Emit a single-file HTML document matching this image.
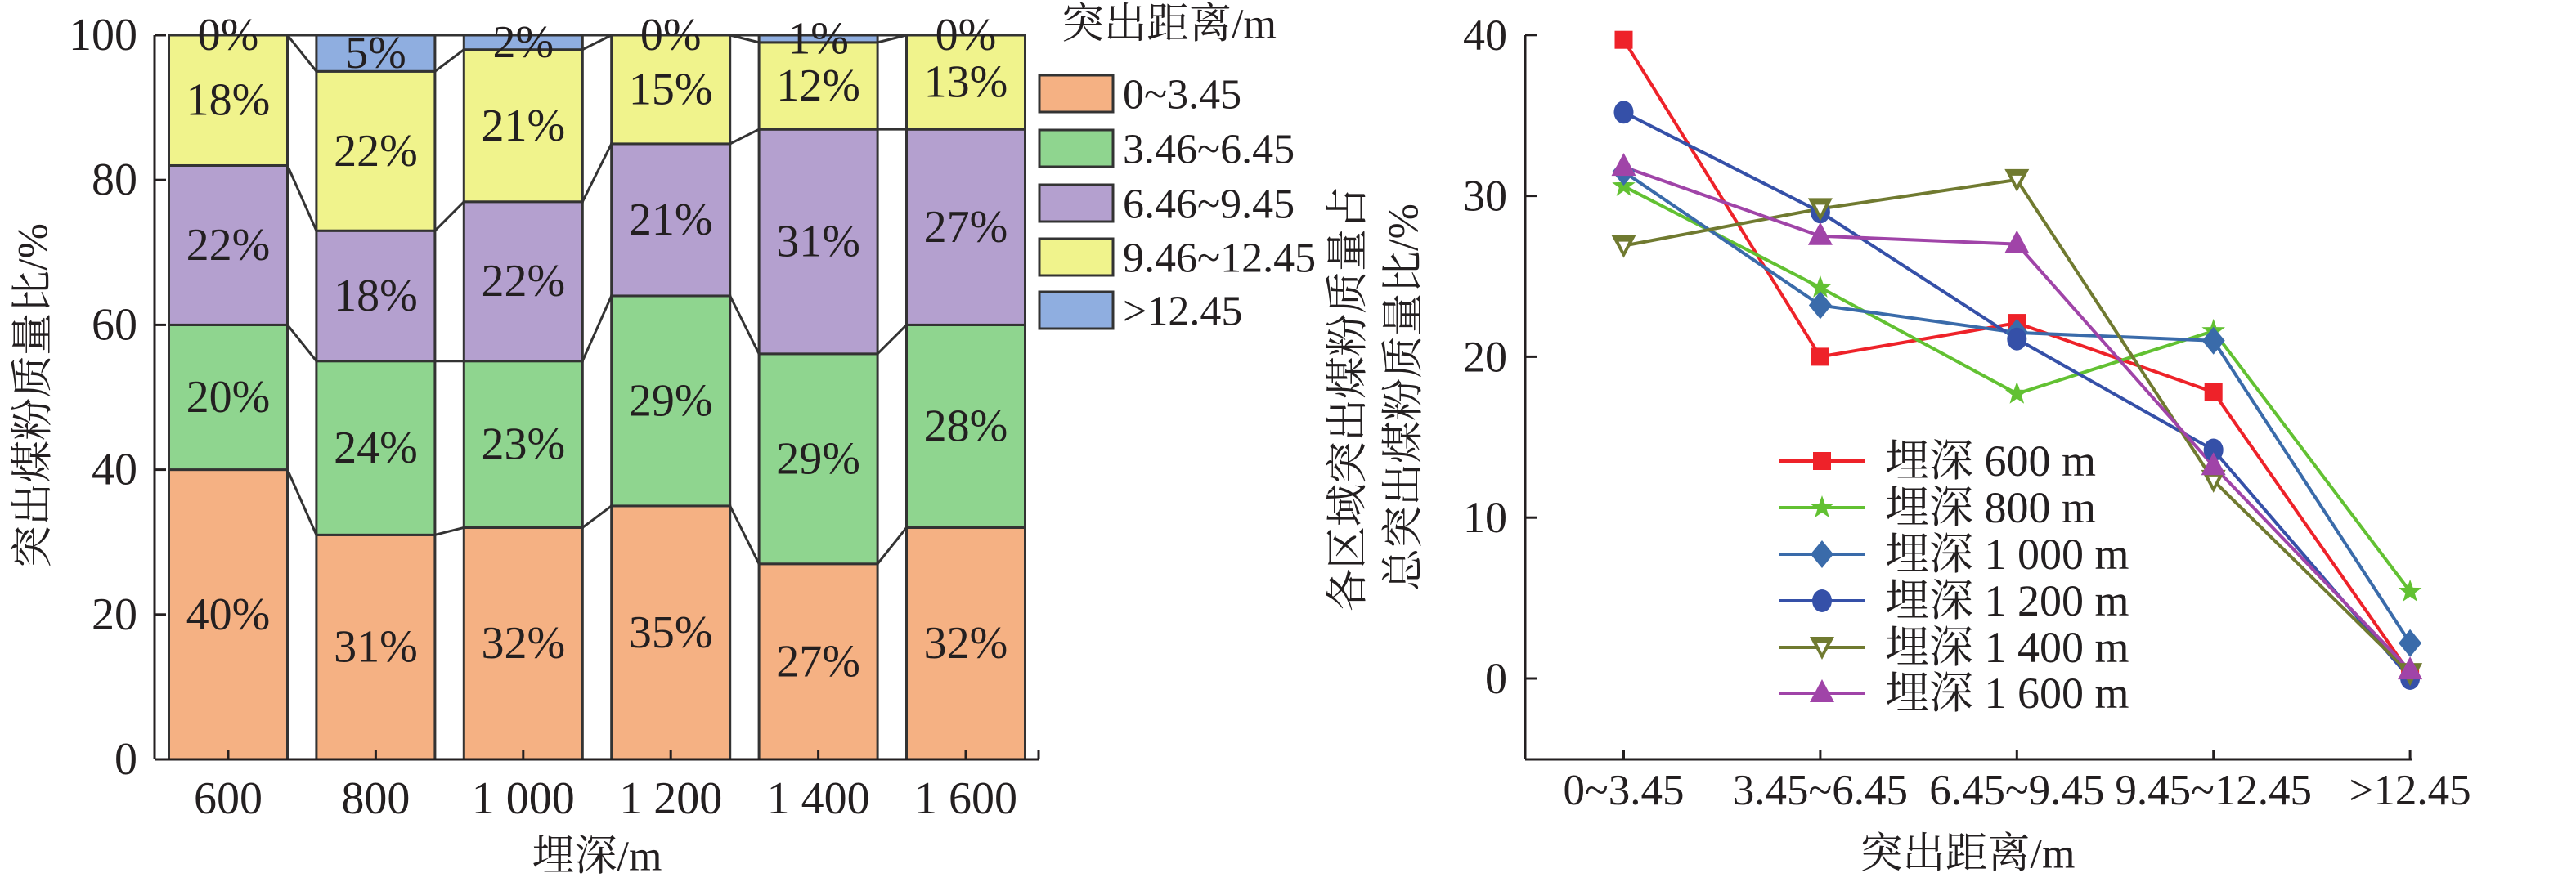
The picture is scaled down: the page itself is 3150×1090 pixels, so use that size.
<!DOCTYPE html>
<html><head><meta charset="utf-8"><style>
html,body{margin:0;padding:0;background:#fff}
text{font-family:"Liberation Serif","Noto Serif CJK SC",serif !important;fill:#231f20}
</style></head><body>
<svg id="svg" width="3150" height="1085" viewBox="0 0 3150 1085" xmlns="http://www.w3.org/2000/svg" font-family="'Liberation Serif', 'Noto Serif CJK SC', serif">
<g id="left"></g>
<g id="right"></g>
</svg>
<script>
// ---- Left chart data ----
const depths = ["600","800","1 000","1 200","1 400","1 600"];
const rangeNames = ["0~3.45","3.46~6.45","6.46~9.45","9.46~12.45",">12.45"];
const seg0 = [40,31,32,35,27,32];
const seg1 = [20,24,23,29,29,28];
const seg2 = [22,18,22,21,31,27];
const seg3 = [18,22,21,15,12,13];
const seg4 = [0,5,2,0,1,0];
const leftTicks = [0,20,40,60,80,100];
// ---- Right chart data ----
const distCats = ["0~3.45","3.45~6.45","6.45~9.45","9.45~12.45",">12.45"];
const s600 = [39.7,20.0,22.1,17.8,0.3];
const s800 = [30.6,24.3,17.7,21.6,5.4];
const s1000 = [31.5,23.2,21.5,21.0,2.2];
const s1200 = [35.2,29.0,21.1,14.2,0.0];
const s1400 = [26.9,29.2,31.0,12.3,0.3];
const s1600 = [31.8,27.5,27.0,13.2,0.5];
const seriesNames = ["埋深 600 m","埋深 800 m","埋深 1 000 m","埋深 1 200 m","埋深 1 400 m","埋深 1 600 m"];
const rightTicks = [0,10,20,30,40];

const NS="http://www.w3.org/2000/svg";
const FF="'Liberation Serif', 'Noto Serif CJK SC', serif";
function mk(parent,tag,attrs,text){const e=document.createElementNS(NS,tag);for(const k in attrs)e.setAttribute(k,attrs[k]);if(tag==='text')e.setAttribute('font-family',FF);if(text!==undefined)e.textContent=text;parent.appendChild(e);return e;}

// ===== LEFT =====
const L=document.getElementById('left');
const lx0=189,lx1=1270,ly0=929,ly100=43;
const ly=v=>ly0-(ly0-ly100)*v/100;
const bw=145, bstep=180.4, bfirst=279;
const bx=i=>bfirst+i*bstep;
const segs=[seg0,seg1,seg2,seg3,seg4];
const segColors=["#F5B183","#8FD58F","#B4A0CF","#F0F38C","#8FAEE0"];
const segNames=["orange","green","purple","yellow","blue"];
const cum=depths.map((d,i)=>{let c=[0];segs.forEach(s=>c.push(c[c.length-1]+s[i]));return c;});
depths.forEach((d,i)=>{
  segs.forEach((s,k)=>{
    const b=cum[i][k],t=cum[i][k+1];
    if(t>b){
      const r=mk(L,'rect',{x:bx(i)-bw/2,y:ly(t),width:bw,height:ly(b)-ly(t),fill:segColors[k],stroke:"#333",'stroke-width':3});
      
      
    }
    const tx=mk(L,'text',{x:bx(i),y:ly((b+t)/2),'font-size':56,'text-anchor':'middle','dominant-baseline':'central'},s[i]+'%');
    
    
  });
  if(i<depths.length-1){
    for(let k=0;k<=5;k++){
      const ln=mk(L,'line',{x1:bx(i)+bw/2,y1:ly(cum[i][k]),x2:bx(i+1)-bw/2,y2:ly(cum[i+1][k]),stroke:"#333",'stroke-width':3});
      
      
    }
  }
  const tk=mk(L,'line',{x1:bx(i),y1:ly0,x2:bx(i),y2:ly0-12,stroke:"#231f20",'stroke-width':3});
  
  
  const tl=mk(L,'text',{x:bx(i),y:977,'font-size':56,'text-anchor':'middle','dominant-baseline':'central'},d);
  
  
});
let a=mk(L,'line',{x1:lx0,y1:ly100,x2:lx0,y2:ly0,stroke:"#231f20",'stroke-width':3});

a=mk(L,'line',{x1:lx0,y1:ly0,x2:lx1,y2:ly0,stroke:"#231f20",'stroke-width':3});

a=mk(L,'line',{x1:lx1,y1:ly0,x2:lx1,y2:ly0-12,stroke:"#231f20",'stroke-width':3});

leftTicks.forEach(v=>{
  const t=mk(L,'line',{x1:lx0,y1:ly(v),x2:lx0+14,y2:ly(v),stroke:"#231f20",'stroke-width':3});
  
  const tl=mk(L,'text',{x:168,y:ly(v),'font-size':56,'text-anchor':'end','dominant-baseline':'central'},v);
  
});
a=mk(L,'text',{x:0,y:0,'font-size':52,'text-anchor':'middle','dominant-baseline':'central',transform:'translate(41,484) rotate(-90)'},'突出煤粉质量比/%');

a=mk(L,'text',{x:730,y:1048,'font-size':52,'text-anchor':'middle','dominant-baseline':'central'},'埋深/m');

a=mk(L,'text',{x:1298,y:30,'font-size':52,'dominant-baseline':'central'},'突出距离/m');

const legTops=[92,159,226,292,357];
rangeNames.forEach((n,k)=>{
  const g=mk(L,'g',{});
  
  const r=mk(g,'rect',{x:1271,y:legTops[k],width:90,height:45,fill:segColors[k],stroke:"#333",'stroke-width':3});
  
  const t=mk(g,'text',{x:1373,y:legTops[k]+24,'font-size':52,'dominant-baseline':'central'},n);
  
});

// ===== RIGHT =====
const R=document.getElementById('right');
const rx0=1865,rx1=2949,ry0=830,per10=196.8,raxisY=929,rtop=43;
const ry=v=>ry0-v*per10/10;
const rx=i=>1985.5+i*240.4;
const allSeries=[s600,s800,s1000,s1200,s1400,s1600];
const colors=["#EE2229","#62C132","#3A6BAA","#3550A8","#707A30","#A044A8"];
const shapes=["square","star","diamond","circle","tridown","triup"];
function marker(g,shape,x,y,c){
  let e;
  if(shape==="square") e=mk(g,'rect',{x:x-11,y:y-11,width:22,height:22,fill:c});
  else if(shape==="circle") e=mk(g,'ellipse',{cx:x,cy:y,rx:12,ry:14,fill:c});
  else if(shape==="diamond") e=mk(g,'polygon',{points:`${x},${y-17} ${x+14},${y} ${x},${y+17} ${x-14},${y}`,fill:c});
  else if(shape==="triup") e=mk(g,'polygon',{points:`${x},${y-17} ${x+15},${y+11} ${x-15},${y+11}`,fill:c});
  else if(shape==="tridown"){e=mk(g,'polygon',{points:`${x-15},${y-13} ${x+15},${y-13} ${x},${y+15}`,fill:c});
    const w=mk(g,'polygon',{points:`${x-6},${y-5} ${x+6},${y-5} ${x},${y+7}`,fill:"#fff"});
    }
  else if(shape==="star"){let p=[];for(let k=0;k<10;k++){const r=k%2?6:15,an=-Math.PI/2+k*Math.PI/5;p.push((x+r*Math.cos(an)).toFixed(1)+','+(y+r*Math.sin(an)).toFixed(1));}e=mk(g,'polygon',{points:p.join(' '),fill:c});}
  
  
}
allSeries.forEach((s,si)=>{
  const g=mk(R,'g',{});
  
  
  const pl=mk(g,'polyline',{points:s.map((v,i)=>rx(i)+','+ry(v)).join(' '),fill:'none',stroke:colors[si],'stroke-width':4});
  
});
allSeries.forEach((s,si)=>{
  const g=mk(R,'g',{});
  
  s.forEach((v,i)=>marker(g,shapes[si],rx(i),ry(v),colors[si]));
});
a=mk(R,'line',{x1:rx0,y1:rtop,x2:rx0,y2:raxisY,stroke:"#231f20",'stroke-width':3});

a=mk(R,'line',{x1:rx0,y1:raxisY,x2:rx1,y2:raxisY,stroke:"#231f20",'stroke-width':3});

rightTicks.forEach(v=>{
  const t=mk(R,'line',{x1:rx0,y1:ry(v),x2:rx0+14,y2:ry(v),stroke:"#231f20",'stroke-width':3});
  
  const tl=mk(R,'text',{x:1843,y:ry(v),'font-size':54,'text-anchor':'end','dominant-baseline':'central'},v);
  
});
distCats.forEach((c,i)=>{
  const t=mk(R,'line',{x1:rx(i),y1:raxisY,x2:rx(i),y2:raxisY-12,stroke:"#231f20",'stroke-width':3});
  
  const tl=mk(R,'text',{x:rx(i),y:967,'font-size':53,'text-anchor':'middle','dominant-baseline':'central'},c);
  
});
a=mk(R,'text',{x:2406,y:1045,'font-size':52,'text-anchor':'middle','dominant-baseline':'central'},'突出距离/m');

a=mk(R,'text',{x:0,y:0,'font-size':52,'text-anchor':'middle','dominant-baseline':'central',transform:'translate(1649,488) rotate(-90)'},'各区域突出煤粉质量占');

a=mk(R,'text',{x:0,y:0,'font-size':52,'text-anchor':'middle','dominant-baseline':'central',transform:'translate(1717,486) rotate(-90)'},'总突出煤粉质量比/%');

const legY=[564,621,678,735,792,848];
seriesNames.forEach((n,si)=>{
  const g=mk(R,'g',{});
  
  const l=mk(g,'line',{x1:2176,y1:legY[si],x2:2280,y2:legY[si],stroke:colors[si],'stroke-width':4});
  
  marker(g,shapes[si],2228,legY[si],colors[si]);
  const t=mk(g,'text',{x:2305,y:legY[si],'font-size':54,'dominant-baseline':'central'},n);
  
});
</script>
</body></html>
